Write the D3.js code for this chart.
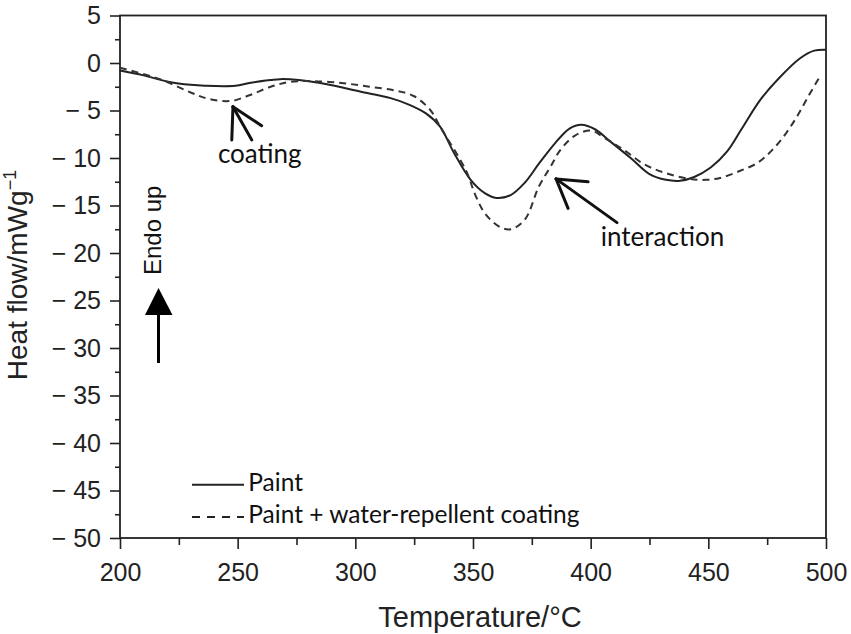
<!DOCTYPE html>
<html>
<head>
<meta charset="utf-8">
<script src="https://cdn.jsdelivr.net/npm/d3@7"></script>
<style>
  body { margin: 0; background: #fff; }
  .tick text { font-family: "Liberation Sans", Arial, sans-serif; font-size: 25px; fill: #222; }
  .note { font-family: Lato, "Open Sans", sans-serif; fill: #111; }
</style>
</head>
<body>
<div id="chart"></div>
<script>
// DSC curves, heat flow vs temperature
var width = 851
var height = 634

// Paint (solid line)
const paintTemp = [200, 210, 221, 230, 236, 249, 255, 264, 268, 276, 289, 302, 315, 323, 330, 336, 342, 349, 355, 360,
  366, 372, 378, 385, 391, 396, 402, 408, 417, 425, 432, 438, 444, 451, 458, 464, 472, 480, 489, 495, 500]
const paintFlow = [-0.8, -1.3, -2.0, -2.3, -2.4, -2.4, -2.1, -1.8, -1.7, -1.8, -2.3, -3.0, -3.7, -4.4, -5.3, -6.7, -9.5, -12.3, -13.7, -14.2,
  -13.9, -12.6, -10.6, -8.4, -6.9, -6.5, -7.0, -8.2, -10.0, -11.7, -12.3, -12.4, -12.0, -11.0, -9.3, -7.0, -3.9, -1.6, 0.5, 1.3, 1.4]

// Paint + water-repellent coating (dashed line)
const coatTemp = [200, 217, 230, 238, 247, 255, 264, 272, 281, 294, 306, 317, 325, 332, 336, 347, 351, 355, 361, 366,
  372, 378, 383, 387, 393, 400, 406, 415, 423, 432, 442, 449, 455, 463, 471, 477, 483, 488, 492.5, 497]
const coatFlow = [-0.5, -1.7, -3.1, -3.8, -4.0, -3.4, -2.5, -2.0, -1.9, -2.1, -2.5, -2.9, -3.5, -5.0, -6.7, -11.3, -13.9, -15.8, -17.2, -17.5,
  -16.5, -13.0, -10.9, -9.2, -7.7, -7.1, -7.9, -9.3, -10.7, -11.6, -12.2, -12.3, -12.1, -11.4, -10.5, -9.2, -7.4, -5.5, -3.5, -1.6]

const xTicks = [200, 250, 300, 350, 400, 450, 500]
const yTicks = [5, 0, -5, -10, -15, -20, -25, -30, -35, -40, -45, -50]
const legendLabels = ["Paint", "Paint + water-repellent coating"]

const svg = d3.select("#chart")
  .append("svg")
    .attr("width", width)
    .attr("height", height)

const x = d3.scaleLinear().domain([200, 500]).range([120, 826])
const y = d3.scaleLinear().domain([-50, 5]).range([538, 15.5])

const fmt = d => d < 0 ? "\u2212 " + (-d) : String(d)

// axes: major + minor ticks
svg.append("g")
  .attr("transform", "translate(0,538)")
  .call(d3.axisBottom(x).tickValues(d3.range(225, 500, 50)).tickSize(7).tickFormat("").tickSizeOuter(0))
svg.append("g")
  .attr("transform", "translate(0,538)")
  .call(d3.axisBottom(x).tickValues(xTicks).tickSize(11).tickPadding(14).tickFormat(d3.format("d")).tickSizeOuter(0))
svg.append("g")
  .attr("transform", "translate(120,0)")
  .call(d3.axisLeft(y).tickValues(d3.range(2.5, -50, -5)).tickSize(5).tickFormat("").tickSizeOuter(0))
svg.append("g")
  .attr("transform", "translate(120,0)")
  .call(d3.axisLeft(y).tickValues(yTicks).tickSize(10).tickPadding(9).tickFormat(fmt).tickSizeOuter(0))

svg.selectAll(".tick line").attr("stroke", "#222").attr("stroke-width", 1.6)
svg.selectAll(".domain").remove()

// frame
svg.append("rect")
  .attr("x", x(200)).attr("y", y(5))
  .attr("width", x(500) - x(200)).attr("height", y(-50) - y(5))
  .attr("fill", "none")
  .attr("stroke", "#222")
  .attr("stroke-width", 1.8)

// curves
const line = d3.line()
  .x(d => x(d[0]))
  .y(d => y(d[1]))
  .curve(d3.curveCatmullRom)

svg.append("path")
  .datum(paintTemp.map((t, i) => [t, paintFlow[i]]))
  .attr("d", line)
  .attr("fill", "none")
  .attr("stroke", "#222")
  .attr("stroke-width", 2)

svg.append("path")
  .datum(coatTemp.map((t, i) => [t, coatFlow[i]]))
  .attr("d", line)
  .attr("fill", "none")
  .attr("stroke", "#333")
  .attr("stroke-width", 2)
  .attr("stroke-dasharray", "7,5")

// axis titles
svg.append("text")
  .attr("x", 480).attr("y", 627)
  .attr("text-anchor", "middle")
  .style("font-family", "'Liberation Sans', Arial, sans-serif")
  .style("font-size", "29px")
  .style("fill", "#222")
  .text("Temperature/\u00b0C")

const ytitle = svg.append("text")
  .attr("transform", "translate(27,275) rotate(-90)")
  .attr("text-anchor", "middle")
  .style("font-family", "'Liberation Sans', Arial, sans-serif")
  .style("font-size", "28px")
  .style("fill", "#222")
ytitle.append("tspan").text("Heat flow/mWg")
ytitle.append("tspan").attr("dy", -11).style("font-size", "18px").text("\u22121")

// "Endo up" with arrow
svg.append("text")
  .attr("transform", "translate(161,275) rotate(-90)")
  .style("font-family", "'Liberation Sans', Arial, sans-serif")
  .style("font-size", "24px")
  .style("fill", "#111")
  .text("Endo up")
svg.append("path")
  .attr("d", "M158.5,288 L145,315 L172.5,315 Z")
  .attr("fill", "#000")
svg.append("line")
  .attr("x1", 158.5).attr("y1", 314).attr("x2", 158.5).attr("y2", 363)
  .attr("stroke", "#000").attr("stroke-width", 3)

// annotation arrows (tip first, then the three ends)
const arrows = [
  {tip: [248.0, -4.6], ends: [[247.5, -8.1], [260.2, -6.6], [256.0, -8.1]]},
  {tip: [385.3, -12.2], ends: [[398.9, -12.5], [390.4, -15.3], [411.2, -16.8]]}
]
arrows.forEach(a => {
  svg.append("g").selectAll("line")
    .data(a.ends)
    .join("line")
      .attr("x1", x(a.tip[0])).attr("y1", y(a.tip[1]))
      .attr("x2", d => x(d[0])).attr("y2", d => y(d[1]))
      .attr("stroke", "#111")
      .attr("stroke-width", 3)
      .attr("stroke-linecap", "round")
})

svg.append("text").attr("class", "note")
  .attr("x", x(241.6)).attr("y", y(-10.5))
  .style("font-size", "26px")
  .text("coating")
svg.append("text").attr("class", "note")
  .attr("x", x(404.3)).attr("y", y(-19.3))
  .style("font-size", "26px")
  .text("interaction")

// legend
const legY = [-44.4, -47.8]
legendLabels.forEach((lab, i) => {
  svg.append("line")
    .attr("x1", x(230.6)).attr("x2", x(252.7))
    .attr("y1", y(legY[i])).attr("y2", y(legY[i]))
    .attr("stroke", "#222")
    .attr("stroke-width", 2)
    .attr("stroke-dasharray", i == 1 ? "8,7" : null)
  svg.append("text").attr("class", "note")
    .attr("x", x(254.5)).attr("y", y(legY[i]) + 6)
    .style("font-size", "24.5px")
    .text(lab)
})
</script>
</body>
</html>
